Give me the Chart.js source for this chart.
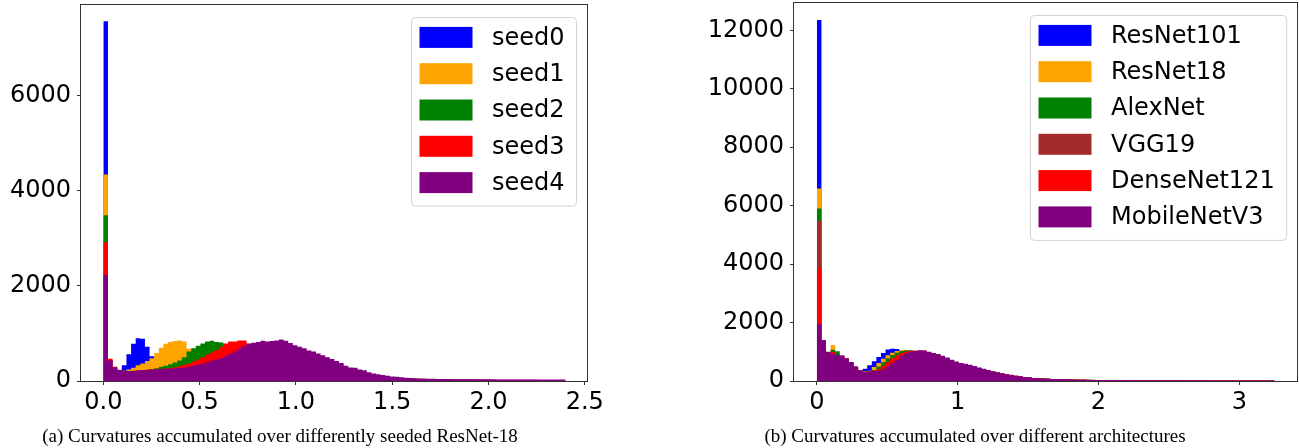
<!DOCTYPE html>
<html><head><meta charset="utf-8">
<script src="https://cdn.jsdelivr.net/npm/chart.js@4.4.1/dist/chart.umd.min.js"></script>
<style>
html,body{margin:0;padding:0;background:#fff;width:1299px;height:448px;overflow:hidden;}
#c1{position:absolute;left:0;top:0;}
#c2{position:absolute;left:650px;top:0;}
.cap{position:absolute;top:425px;font-family:'Liberation Serif','Times New Roman',serif;font-size:19px;color:#000;white-space:nowrap;transform:translateX(-50%);}
</style></head><body>
<canvas id="c1" width="650" height="448"></canvas>
<canvas id="c2" width="649" height="448"></canvas>
<div class="cap" style="left:280px">(a) Curvatures accumulated over differently seeded ResNet-18</div>
<div class="cap" style="left:975px">(b) Curvatures accumulated over different architectures</div>
<script>
// ---------- data: left panel (differently seeded ResNet-18) ----------
const leftBinWidth = 0.024;
const leftNames = ['seed0', 'seed1', 'seed2', 'seed3', 'seed4'];
const leftColors = ['#0000ff', '#ffa500', '#008000', '#ff0000', '#800080'];
const leftXTicks = [0, 0.5, 1.0, 1.5, 2.0, 2.5];
const leftYTicks = [0, 2000, 4000, 6000];
const seed0 = [7560,410,280,225,330,560,780,900,890,720, 520,400,330,300,280,260,250,240,230,220,
  210,205,200,195,190,185,180,175,170,165, 160,155,150,145,140,135,130,125,120,115,
  110,105,100,95,90,86,82,78,74,70, 66,62,58,55,52,49,46,43,41,39,
  37,35,33,31,30,29,28,27,26,25, 24,24,23,23,22,22,21,21,20,20,
  20,19,19,19,18,18,18,17,17,17, 16,16,16,16,15,15,15,15,14,14];
const seed1 = [4340,420,290,230,215,240,280,330,370,420, 480,590,700,780,820,840,850,830,680,600,
  560,530,500,470,440,420,400,380,360,340, 320,300,285,270,255,240,228,216,205,195,
  185,175,165,155,145,136,128,120,112,105, 98,91,85,79,74,69,64,60,56,52,
  49,46,43,40,38,36,34,32,31,30, 29,28,27,26,26,25,25,24,24,23,
  23,23,22,22,22,21,21,21,20,20, 20,19,19,19,19,18,18,18,18,17];
const seed2 = [3480,440,290,230,213,209,213,221,229,234, 250,270,300,320,350,390,430,500,620,690,
  740,790,830,845,820,810,760,700,640,600, 560,520,490,460,430,400,380,360,340,320,
  300,280,260,240,220,200,185,170,155,140, 128,116,105,95,86,78,71,65,60,55,
  51,48,45,42,40,38,36,34,33,32, 31,30,29,28,28,27,27,26,26,25,
  25,24,24,24,23,23,23,22,22,22, 21,21,21,20,20,20,20,19,19,19];
const seed3 = [2920,470,300,235,215,210,214,222,230,236, 245,250,258,265,275,290,310,340,370,410,
  450,500,550,600,650,720,790,830,830,850, 850,790,760,740,720,700,690,680,660,640,
  620,590,560,530,500,470,440,410,380,350, 320,290,260,230,210,190,170,150,130,115,
  100,90,80,72,65,58,52,48,45,42, 40,38,36,35,34,33,32,31,30,30,
  29,29,28,28,27,27,26,26,25,25, 25,24,24,24,23,23,23,22,22,22];
const seed4 = [2225,430,290,230,212,208,212,220,228,232, 240,245,250,256,262,265,272,285,300,318,
  340,365,395,425,455,485,525,570,620,680, 735,780,805,820,845,830,840,850,870,845,
  800,750,720,690,640,620,580,540,500,460, 420,380,320,285,280,240,225,185,160,140,
  125,110,95,90,78,70,62,58,52,50, 48,46,44,42,40,39,38,38,37,37,
  36,36,35,35,35,34,34,34,33,33, 33,32,32,32,31,31,31,30,30,30];
const leftSeries = [seed0, seed1, seed2, seed3, seed4];

// ---------- data: right panel (different architectures) ----------
const rightBinWidth = 0.0325;
const rightNames = ['ResNet101', 'ResNet18', 'AlexNet', 'VGG19', 'DenseNet121', 'MobileNetV3'];
const rightColors = ['#0000ff', '#ffa500', '#008000', '#a52a2a', '#ff0000', '#800080'];
const rightXTicks = [0, 1, 2, 3];
const rightYTicks = [0, 2000, 4000, 6000, 8000, 10000, 12000];
const resnet101 = [12350,1300,950,900,870,840,760,640,490,350, 420,540,680,820,960,1080,1100,1095,1060,980,
  950,920,880,840,800,760,720,680,630,580, 540,500,470,440,400,370,340,310,280,250,
  225,200,180,160,140,125,110,95,85,77, 70,64,59,55,51,48,45,42,40,38,
  36,34,33,32,31,30,29,28,27,26, 25,25,24,24,23,23,22,22,22,21,
  21,21,20,20,20,19,19,19,19,18, 18,18,18,17,17,17,17,16,16,16];
const resnet18 = [6587,1350,990,1230,950,860,770,640,490,360, 340,350,480,620,760,880,970,1030,1060,1060,
  990,980,960,930,890,850,810,770,720,670, 620,570,530,500,460,420,380,345,310,280,
  250,225,200,175,155,135,118,102,92,83, 75,69,63,58,54,50,47,44,41,39,
  37,35,34,33,32,31,30,29,28,27, 26,25,25,24,24,23,23,22,22,22,
  21,21,21,20,20,20,19,19,19,18, 18,18,18,17,17,17,16,16,16,16];
const alexnet = [5900,1300,980,1070,1020,850,760,630,480,350, 320,330,380,500,640,780,890,970,1030,1055,
  1050,1030,1000,960,920,880,840,790,740,690, 640,590,550,510,470,430,390,350,315,285,
  255,228,203,178,157,137,119,104,93,84, 76,70,64,59,54,50,47,44,41,39,
  37,35,34,33,32,31,30,29,28,27, 26,25,25,24,24,23,23,22,22,22,
  21,21,21,20,20,20,19,19,19,18, 18,18,18,17,17,17,16,16,16,16];
const vgg19 = [5487,1250,950,950,880,840,750,620,470,340, 310,315,330,360,420,520,640,750,860,930,
  990,1010,1020,1010,980,940,900,840,780,710, 630,585,545,505,465,425,385,345,310,280,
  250,224,200,175,154,134,116,101,91,82, 74,68,62,57,53,49,46,43,40,38,
  36,34,33,32,31,30,29,28,27,26, 25,24,24,23,23,22,22,21,21,21,
  20,20,20,19,19,19,18,18,18,17, 17,17,17,16,16,16,15,15,15,15];
const densenet121 = [3860,1350,990,1000,890,860,770,640,490,360, 320,330,350,400,520,650,780,880,960,1010,
  1030,1040,1045,1040,990,950,910,850,790,720, 650,600,560,520,480,440,400,360,325,290,
  258,230,205,178,156,136,118,103,92,83, 75,69,63,58,53,49,46,43,40,38,
  36,34,33,32,31,30,29,28,27,26, 25,24,24,23,23,22,22,21,21,21,
  20,20,20,19,19,19,18,18,18,17, 17,17,17,16,16,16,15,15,15,15];
const mobilenetv3 = [1950,1400,1000,930,900,870,780,650,500,370, 320,325,335,350,400,500,620,730,860,940,
  1000,1030,1055,1040,1000,960,920,860,800,730, 670,620,590,555,510,460,420,380,335,300,
  265,235,210,180,160,140,120,105,95,85, 78,72,66,61,57,53,50,47,44,42,
  40,38,36,34,33,32,31,30,29,28, 28,27,27,26,26,25,25,24,24,24,
  23,23,23,22,22,22,21,21,21,21, 20,20,20,20,19,19,19,19,18,18];
const rightSeries = [resnet101, resnet18, alexnet, vgg19, densenet121, mobilenetv3];

// ---------- helpers ----------
const FONT = '"DejaVu Sans", sans-serif';
function toSteps(counts, w) {
  const pts = counts.map((c, i) => ({ x: i * w, y: c }));
  pts.push({ x: counts.length * w, y: counts[counts.length - 1] });
  return pts;
}
const framePlugin = {
  id: 'frame',
  afterDatasetsDraw(chart) {
    const { ctx, chartArea: a } = chart;
    ctx.save();
    ctx.strokeStyle = '#333';
    ctx.lineWidth = 1;
    ctx.strokeRect(Math.round(a.left) - 0.5, Math.round(a.top) + 0.5,
      Math.round(a.right - a.left) + 1, Math.round(a.bottom - a.top));
    ctx.restore();
  }
};
const legendPlugin = {
  id: 'mplLegend',
  afterDraw(chart) {
    const ctx = chart.ctx, a = chart.chartArea;
    const items = chart.data.datasets.map(d => ({ label: d.label, color: d.backgroundColor }));
    ctx.save();
    ctx.font = '24px ' + FONT;
    const tw = Math.max(...items.map(it => ctx.measureText(it.label).width));
    const padL = 8, sw = 53, sh = 21, gap = 19.5, padR = 12, padT = 9.4, pitch = 36.3, padB = 13;
    const w = padL + sw + gap + tw + padR;
    const h = padT + (items.length - 1) * pitch + sh + padB;
    const x = Math.round(a.right - 11 - w) + 0.5, y = Math.round(a.top + 12.5) + 0.5, r = 4;
    ctx.beginPath();
    ctx.moveTo(x + r, y); ctx.lineTo(x + w - r, y); ctx.arcTo(x + w, y, x + w, y + r, r);
    ctx.lineTo(x + w, y + h - r); ctx.arcTo(x + w, y + h, x + w - r, y + h, r);
    ctx.lineTo(x + r, y + h); ctx.arcTo(x, y + h, x, y + h - r, r);
    ctx.lineTo(x, y + r); ctx.arcTo(x, y, x + r, y, r); ctx.closePath();
    ctx.fillStyle = 'rgba(255,255,255,0.8)'; ctx.fill();
    ctx.strokeStyle = '#d4d4d4'; ctx.lineWidth = 1; ctx.stroke();
    items.forEach((it, i) => {
      const ry = y + padT + i * pitch;
      ctx.fillStyle = it.color;
      ctx.fillRect(x + padL, ry, sw, sh);
      ctx.fillStyle = '#000';
      ctx.textBaseline = 'middle'; ctx.textAlign = 'left';
      ctx.fillText(it.label, x + padL + sw + gap, ry + sh / 2 + 1);
    });
    ctx.restore();
  }
};

function makeChart(id, names, colors, series, binW, xr, yMax, xTicks, yTicks, xFmt, yAxisW, pad) {
  return new Chart(document.getElementById(id), {
    type: 'line',
    data: {
      datasets: names.map((n, k) => ({
        label: n,
        data: toSteps(series[k], binW),
        backgroundColor: colors[k],
        borderColor: colors[k],
        borderWidth: 0,
        fill: 'origin',
        stepped: 'before',
        pointRadius: 0,
        order: names.length - k
      }))
    },
    options: {
      responsive: false, animation: false, devicePixelRatio: 1,
      layout: { padding: pad },
      plugins: { legend: { display: false }, tooltip: { enabled: false } },
      scales: {
        x: {
          type: 'linear', min: xr[0], max: xr[1],
          afterBuildTicks: s => { s.ticks = xTicks.map(v => ({ value: v })); },
          ticks: { callback: xFmt, color: '#000', font: { family: FONT, size: 24 }, padding: 3, maxRotation: 0, autoSkip: false },
          grid: { drawOnChartArea: false, drawTicks: true, tickLength: 4, color: '#333' },
          border: { display: false },
          afterFit: s => { s.height = 448 - 381 - pad.bottom; s.paddingLeft = 0; s.paddingRight = 0; }
        },
        y: {
          type: 'linear', min: 0, max: yMax,
          afterBuildTicks: s => { s.ticks = yTicks.map(v => ({ value: v })); },
          ticks: { callback: v => String(v), color: '#000', font: { family: FONT, size: 24 }, padding: 6 },
          grid: { drawOnChartArea: false, drawTicks: true, tickLength: 4, color: '#333' },
          border: { display: false },
          afterFit: s => { s.width = yAxisW; s.paddingTop = 0; s.paddingBottom = 0; }
        }
      }
    },
    plugins: [framePlugin, legendPlugin]
  });
}

makeChart('c1', leftNames, leftColors, leftSeries, leftBinWidth, [-0.116, 2.5115], 7920,
  leftXTicks, leftYTicks, v => Number(v).toFixed(1), 81, { left: 0, right: 63, top: 4, bottom: 0 });
makeChart('c2', rightNames, rightColors, rightSeries, rightBinWidth, [-0.1625, 3.41], 12968,
  rightXTicks, rightYTicks, v => String(v), 144, { left: 0, right: 2, top: 2, bottom: 0 });
</script>
</body></html>
